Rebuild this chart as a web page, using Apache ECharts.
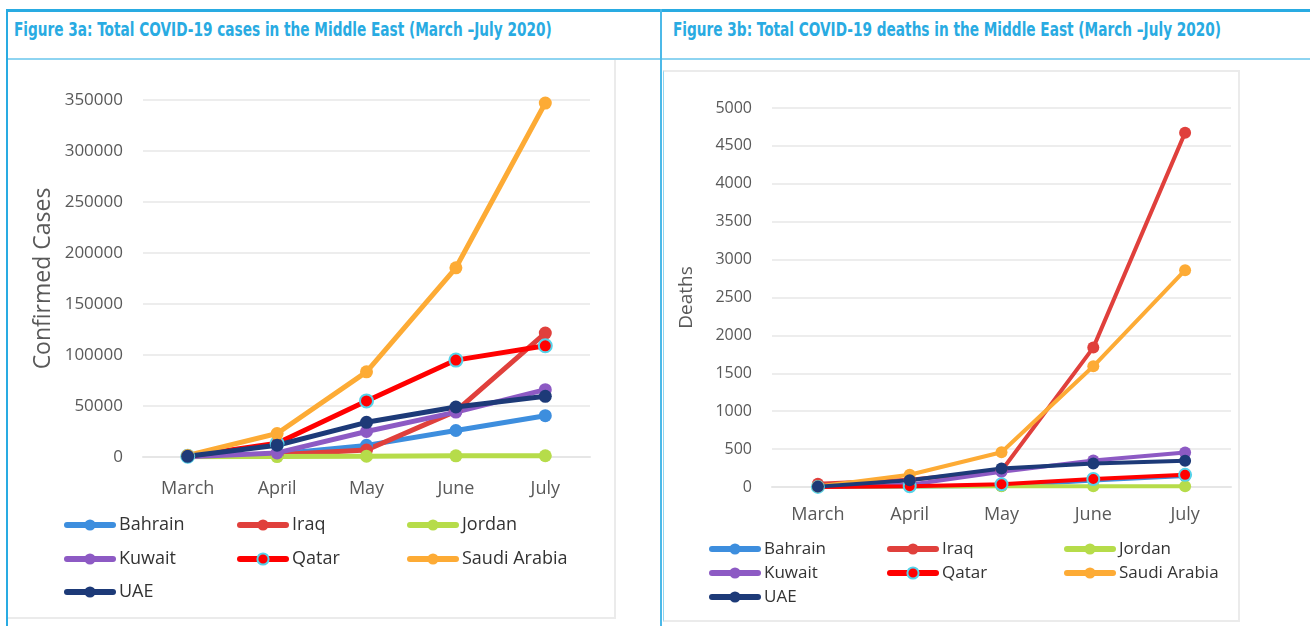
<!DOCTYPE html>
<html>
<head>
<meta charset="utf-8">
<script src="https://cdn.jsdelivr.net/npm/echarts@6/dist/echarts.min.js"></script>
<style>
  body { margin: 0; background: #fff; }
  #page { position: relative; width: 1310px; height: 626px; overflow: hidden; }
  .ln { position: absolute; }
  .hd {
    position: absolute; top: 18px; white-space: nowrap;
    font-family: "Liberation Sans Narrow", "DejaVu Sans Condensed", sans-serif;
    font-weight: bold; font-size: 19px; color: #29abe2;
    transform: scaleX(0.8); transform-origin: left center;
  }
  #chart { position: absolute; left: 0; top: 0; width: 1310px; height: 626px; }
</style>
</head>
<body>
<div id="page">
  <!-- frame -->
  <div class="ln" style="left:6px;top:9px;width:1304px;height:3px;background:#29abe2"></div>
  <div class="ln" style="left:6px;top:9px;width:2px;height:617px;background:#29abe2"></div>
  <div class="ln" style="left:8px;top:58px;width:1302px;height:2px;background:#8ed4f1"></div>
  <div class="ln" style="left:660px;top:9px;width:2px;height:617px;background:#4cb9e8"></div>
  <!-- chart boxes -->
  <div class="ln" style="left:8px;top:60px;width:606px;height:557px;border-right:2px solid #ebebeb;border-bottom:2px solid #ebebeb"></div>
  <div class="ln" style="left:663px;top:70px;width:574px;height:548px;border:2px solid #ebebeb;border-left:1px solid #8ed4f1"></div>

  <div class="hd" style="left:14px">Figure 3a: Total COVID-19 cases in the Middle East (March –July 2020)</div>
  <div class="hd" style="left:673px">Figure 3b: Total COVID-19 deaths in the Middle East (March –July 2020)</div>

  <div id="chart"></div>
</div>
<script type="text/javascript">
  var months = ['March', 'April', 'May', 'June', 'July'];
  var countries = ['Bahrain', 'Iraq', 'Jordan', 'Kuwait', 'Qatar', 'Saudi Arabia', 'UAE'];
  var colors = ['#3d8ede', '#e0403c', '#b6dc4a', '#8d5ac4', '#ff0000', '#fdab35', '#1d3a78'];

  // confirmed cases, end of month
  var casesBahrain = [570, 3000, 11400, 26000, 40500];
  var casesIraq = [700, 2100, 6800, 45000, 121500];
  var casesJordan = [270, 450, 740, 1130, 1200];
  var casesKuwait = [270, 4000, 25000, 44000, 66000];
  var casesQatar = [780, 13400, 55000, 95000, 109000];
  var casesSaudi = [1560, 23000, 83500, 185500, 347000];
  var casesUAE = [660, 11500, 34000, 49000, 59500];

  // deaths, end of month
  var deathsBahrain = [4, 8, 14, 85, 145];
  var deathsIraq = [42, 95, 215, 1839, 4675];
  var deathsJordan = [5, 8, 9, 9, 11];
  var deathsKuwait = [0, 30, 200, 350, 455];
  var deathsQatar = [1, 10, 36, 106, 160];
  var deathsSaudi = [8, 162, 458, 1592, 2860];
  var deathsUAE = [5, 90, 245, 310, 345];

  var casesData = [casesBahrain, casesIraq, casesJordan, casesKuwait, casesQatar, casesSaudi, casesUAE];
  var deathsData = [deathsBahrain, deathsIraq, deathsJordan, deathsKuwait, deathsQatar, deathsSaudi, deathsUAE];

  var font = '"Open Sans", "Noto Sans", sans-serif';
  var grey = '#595959';

  var myChart = echarts.init(document.getElementById('chart'));

  function makeSeries(dataList, g, lw, ss) {
    return countries.map(function (name, i) {
      var isQatar = name === 'Qatar';
      return {
        name: name,
        type: 'line',
        xAxisIndex: g,
        yAxisIndex: g,
        data: dataList[i],
        symbol: 'circle',
        symbolSize: ss,
        animation: false,
        lineStyle: { width: lw, color: colors[i] },
        itemStyle: {
          color: colors[i],
          borderColor: isQatar ? '#55d3ea' : colors[i],
          borderWidth: isQatar ? 2 : 0
        }
      };
    });
  }

  // one legend per entry so they sit in a 3-column grid
  function makeLegends(cols, rows, fs) {
    return countries.map(function (name, i) {
      return {
        data: [name],
        left: cols[i % 3],
        top: rows[Math.floor(i / 3)] - 11,
        padding: 0,
        itemWidth: 46,
        itemHeight: 14,
        selectedMode: false,
        lineStyle: { width: 6, cap: 'round' },
        textStyle: { fontFamily: font, fontSize: fs, color: '#333', lineHeight: 22, padding: [0, 0, 0, 1] }
      };
    });
  }

  function xAxisFor(g, margin) {
    return {
      type: 'category',
      gridIndex: g,
      data: months,
      boundaryGap: true,
      axisLine: { lineStyle: { color: '#e6e6e6', width: 2 } },
      axisTick: { show: false },
      axisLabel: { fontFamily: font, fontSize: 18, color: grey, margin: margin }
    };
  }

  function yAxisFor(g, max, interval, name, gap, fs, nfs) {
    return {
      type: 'value',
      gridIndex: g,
      min: 0,
      max: max,
      interval: interval,
      axisLine: { show: false },
      axisTick: { show: false },
      splitLine: { lineStyle: { color: '#ededed', width: 2 } },
      axisLabel: {
        fontFamily: font, fontSize: fs, color: grey, margin: 20,
        formatter: function (v) { return String(v); }
      },
      name: name,
      nameLocation: 'middle',
      nameGap: gap,
      nameTextStyle: { fontFamily: font, fontSize: nfs, color: grey }
    };
  }

  var option = {
    animation: false,
    grid: [
      { left: 143, top: 100, width: 447, height: 357 },
      { left: 772, top: 108, width: 459, height: 379 }
    ],
    xAxis: [xAxisFor(0, 23), xAxisFor(1, 19)],
    yAxis: [
      yAxisFor(0, 350000, 50000, 'Confirmed Cases', 88, 17, 23),
      yAxisFor(1, 5000, 500, 'Deaths', 76, 16, 19)
    ],
    legend: makeLegends([64, 237, 407], [525, 559, 592], 18)
      .concat(makeLegends([709, 887, 1064], [549, 573, 597], 17)),
    series: makeSeries(casesData, 0, 5, 13).concat(makeSeries(deathsData, 1, 4, 12))
  };

  myChart.setOption(option);
</script>
</body>
</html>
